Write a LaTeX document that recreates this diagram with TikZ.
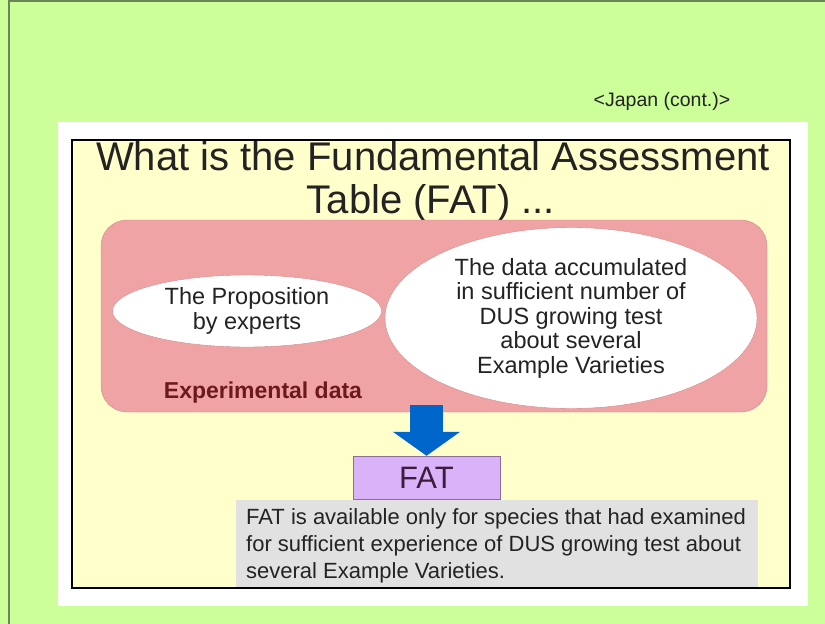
\documentclass[tikz,border=0pt]{standalone}
\usepackage{fontspec}
\setmainfont{Liberation Sans}
\usetikzlibrary{shapes.geometric,arrows.meta,positioning}

\definecolor{slidegreen}{RGB}{204,255,153}
\definecolor{slideline}{RGB}{105,135,85}
\definecolor{paneyellow}{RGB}{255,255,204}
\definecolor{datapink}{RGB}{240,163,165}
\definecolor{pinkline}{RGB}{210,135,135}
\definecolor{labelred}{RGB}{110,25,25}
\definecolor{arrowblue}{RGB}{0,102,204}
\definecolor{fatlilac}{RGB}{218,178,250}
\definecolor{fatline}{RGB}{140,110,150}
\definecolor{notegray}{RGB}{225,225,225}
\definecolor{inktext}{RGB}{35,35,35}

\tikzset{
  bubble/.style={ellipse,draw=pinkline,fill=white,inner sep=0pt,align=center,
    text=inktext,font=\fontsize{23.5}{24.5}\selectfont},
  fatbox/.style={draw=fatline,fill=fatlilac,inner sep=0pt,
    text={rgb,255:red,60;green,30;blue,60},font=\fontsize{31}{33}\selectfont},
  titleline/.style={anchor=base,font=\fontsize{40}{43}\selectfont,text=inktext},
}

\begin{document}
\begin{tikzpicture}[x=1pt,y=-1pt]
  \useasboundingbox (0,0) rectangle (825,624);
  % slide background and frames
  \fill[slidegreen] (0,0) rectangle (825,624);
  \draw[slideline,line width=2pt] (9,624) -- (9,1) -- (825,1);
  \fill[white] (58,122) rectangle (808,606);
  \draw[line width=1.8pt,fill=paneyellow] (72,140) rectangle (790,588);

  \node[anchor=base,font=\fontsize{19.5}{22}\selectfont,text=inktext] (country) at (662,106) {<Japan (cont.)>};
  \node[titleline] (title1) at (433,170) {What is the Fundamental Assessment};
  \node[titleline] (title2) at (431,213) {Table (FAT) ...};

  % experimental data block
  \node[rounded corners=26pt,draw=pinkline,fill=datapink,minimum width=666pt,
    minimum height=192pt,inner sep=0pt] (exp) at (434,316) {};
  \node[bubble,minimum width=269pt,minimum height=72pt] (expert) at (247,311)
    {The Proposition\\by experts};
  \node[bubble,minimum width=372pt,minimum height=181pt] (accum) at (571,318)
    {The data accumulated\\in sufficient number of\\DUS growing test\\about several\\Example Varieties};
  \node[anchor=base,font=\bfseries\fontsize{23}{25}\selectfont,text=labelred] (explabel) at (263,398) {Experimental data};

  % result
  \node[fatbox,minimum width=147pt,minimum height=43pt] (fat) at (426.5,477.5) {FAT};
  \coordinate (arrowtop) at (426.5,405);
  \draw[arrowblue,line width=33pt,-{Triangle[width=66pt,length=24pt]}] (arrowtop) -- (fat.north);

  \node[anchor=north west,fill=notegray,minimum width=522pt,minimum height=87pt,inner sep=0pt] (note) at (236,500) {};
  \node[anchor=north west,inner sep=0pt,align=left,font=\fontsize{22}{27}\selectfont,text=inktext]
    (notetext) at ([xshift=10pt,yshift=-8pt]note.north west)
    {FAT is available only for species that had examined\\for sufficient experience of DUS growing test about\\several Example Varieties.};
\end{tikzpicture}
\end{document}
